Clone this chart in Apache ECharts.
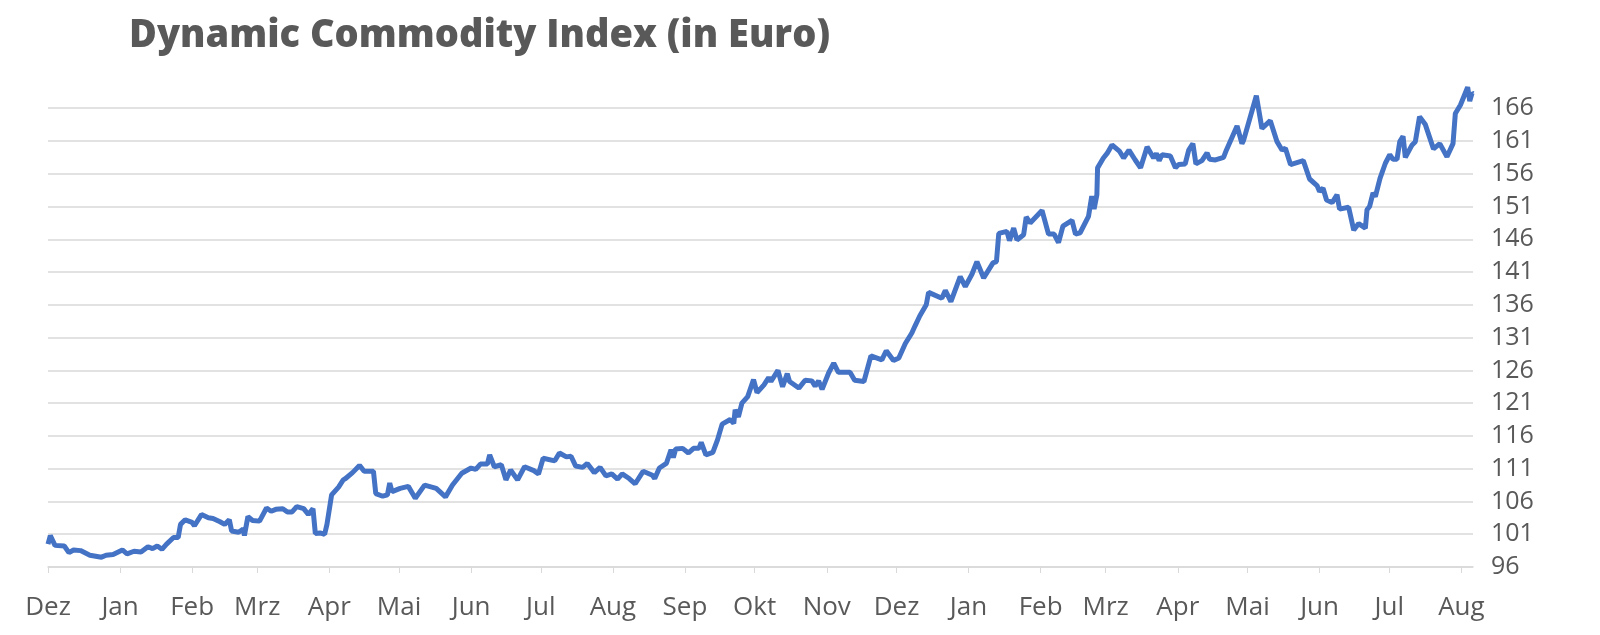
<!DOCTYPE html>
<html><head><meta charset="utf-8">
<script src="https://cdn.jsdelivr.net/npm/echarts@6/dist/echarts.min.js"></script>
<style>html,body{margin:0;padding:0;background:#fff}#c{width:1600px;height:635px}</style>
</head><body><div id="c"></div>
<script>
const title = "Dynamic Commodity Index (in Euro)";
const monthLabels = ["Dez","Jan","Feb","Mrz","Apr","Mai","Jun","Jul","Aug","Sep","Okt","Nov","Dez","Jan","Feb","Mrz","Apr","Mai","Jun","Jul","Aug"];
const monthDays = [0,31,62,90,121,151,182,212,243,274,304,335,365,396,427,455,486,516,547,577,608];
const days = [0,1,3,7,9,11,14,18,23,25,28,32,34,37,40,43,45,47,49,51,54,56,57,59,62,63,66,69,71,74,76,78,79,82,84,84.5,86,88,91,94,96,98,101,103,105,107,110,112,114,115,117,119,120,122,125,127,128,131,134,136,140,141,144,146,147,148,
151.5,155,158,162,167,171,174,178,182,184,186,189,190,192,195,197,199,202,205,209,211,213,218,220,223,225,227,230,232,235,237.5,240,242.5,245,247,250,252.6,256,260,261,263,266,268,269,270,273,275.5,277.7,280,281,283,286,288,290,293.5,295,295.6,297,298.5,301,303.5,305,308,310,311,314,316,318,319,323,325.7,328.6,330,331.5,333,335.8,338,340,345,347,351,
354,358.7,360.6,363.7,366,368.8,371.6,373,375,377.8,378.8,384.5,386,388.4,392.4,394.6,397.5,399.6,402.5,406.5,408,409,412.5,413.6,415.4,416.8,419.7,420.8,422.5,427.6,430.4,432.8,434.7,436.6,440.5,442,444,447.6,449,450,451.2,451.5,454,455.6,
457.7,461,462.7,465,467.7,470,472.8,475.6,476.8,478,479.2,482.8,485,486.4,489.2,490.7,492.5,493.8,496.4,498.6,499.7,502.2,505.7,506.9,511.5,513.6,514.3,519.8,522.2,525.8,528.7,530.9,532.3,534.5,540,542.7,545.9,547,548.5,550,552.4,554.5,555.6,559.5,561.7,563.8,566.7,567.4,568.5,570,571,573,575.3,577.2,578.6,580.3,581.5,582.9,583.9,586.8,588.2,590,592.5,596,598.7,601.8,604.4,605.4,607.6,608.3,610.7,611.6,612.6,613];
const values = [99.5,100.8,99.3,99.2,98.2,98.6,98.5,97.8,97.5,97.8,97.9,98.6,98.0,98.4,98.3,99.1,98.8,99.2,98.7,99.5,100.5,100.5,102.5,103.2,102.8,102.3,104.0,103.5,103.4,102.9,102.5,103.2,101.5,101.3,101.8,100.8,103.7,103.1,103.0,105.0,104.5,104.8,104.9,104.4,104.4,105.2,104.9,104.0,104.9,101.1,101.2,101.0,102.5,107.0,108.2,109.3,109.5,110.4,111.5,110.6,110.6,107.2,106.8,107.0,108.8,107.5,
108.0,108.3,106.5,108.5,108.0,106.7,108.5,110.3,111.1,110.9,111.7,111.7,113.1,111.3,111.6,109.3,110.8,109.3,111.3,110.7,110.2,112.6,112.2,113.4,112.8,112.9,111.4,111.2,111.8,110.4,111.2,109.9,110.2,109.4,110.2,109.5,108.7,110.6,110.0,109.5,111.1,111.8,113.9,112.7,114.0,114.1,113.4,114.1,114.1,115.0,113.1,113.5,115.4,117.8,118.5,117.9,120.0,118.9,121.0,122.0,124.6,122.6,123.8,124.9,124.3,126.0,123.5,125.5,124.3,123.3,124.5,124.4,123.6,124.4,123.1,125.6,127.1,125.7,125.7,124.5,124.3,
128.2,127.6,129.0,127.5,127.9,130.1,131.7,132.8,134.3,136.0,137.9,137.0,138.2,136.5,140.3,138.8,140.7,142.6,140.1,142.4,142.6,146.9,147.2,145.8,147.7,145.9,146.7,149.4,148.5,150.4,146.8,146.8,145.5,148.0,148.9,146.8,147.0,149.5,152.6,150.6,152.8,156.9,158.4,159.1,
160.4,159.4,158.4,159.6,158.1,156.9,160.1,158.4,159.1,158.0,158.9,158.7,156.9,157.4,157.5,159.6,160.6,157.5,158.0,159.2,158.2,158.1,158.5,159.6,163.3,160.6,161.1,167.9,162.9,164.1,160.9,159.6,159.9,157.4,158.0,155.2,154.2,153.3,153.8,152.0,151.6,152.8,150.6,150.9,147.4,148.4,147.7,150.5,151.0,153.1,152.5,155.3,157.6,158.9,158.2,158.2,160.9,161.7,158.5,160.4,160.9,164.7,163.5,159.8,160.6,158.6,160.6,165.2,166.5,166.8,169.2,167.1,168.3,168.2];
const series = days.map((d,i)=>[d, values[i]]);
const yTicks = [96,101,106,111,116,121,126,131,136,141,146,151,156,161,166];

const chart = echarts.init(document.getElementById('c'));
chart.setOption({
  animation:false,
  title:{text:title,left:124,top:12,textStyle:{fontFamily:'Open Sans',fontWeight:900,fontSize:38,color:'#595959'}},
  grid:{left:48,right:127,top:82,bottom:68},
  xAxis:{type:'value',min:0,max:613,
    axisLine:{show:true,lineStyle:{color:'#d9d9d9',width:1.5}},
    axisTick:{show:true,customValues:monthDays,length:6,lineStyle:{color:'#d9d9d9'}},
    axisLabel:{customValues:monthDays,formatter:(v)=>monthLabels[monthDays.indexOf(v)],fontFamily:'Open Sans',fontSize:26,color:'#595959',margin:28},
    splitLine:{show:false}},
  yAxis:{type:'value',position:'right',min:96,max:170,interval:5,
    axisLine:{show:false},axisTick:{show:false},
    axisLabel:{customValues:yTicks,fontFamily:'Open Sans',fontSize:25,color:'#595959',margin:18},
    splitLine:{showMaxLine:false,lineStyle:{color:'#d9d9d9',width:1.5}}},
  series:[{type:'line',data:series,showSymbol:false,lineStyle:{color:'#4472C4',width:5},itemStyle:{color:'#4472C4'}}]
});
</script></body></html>
